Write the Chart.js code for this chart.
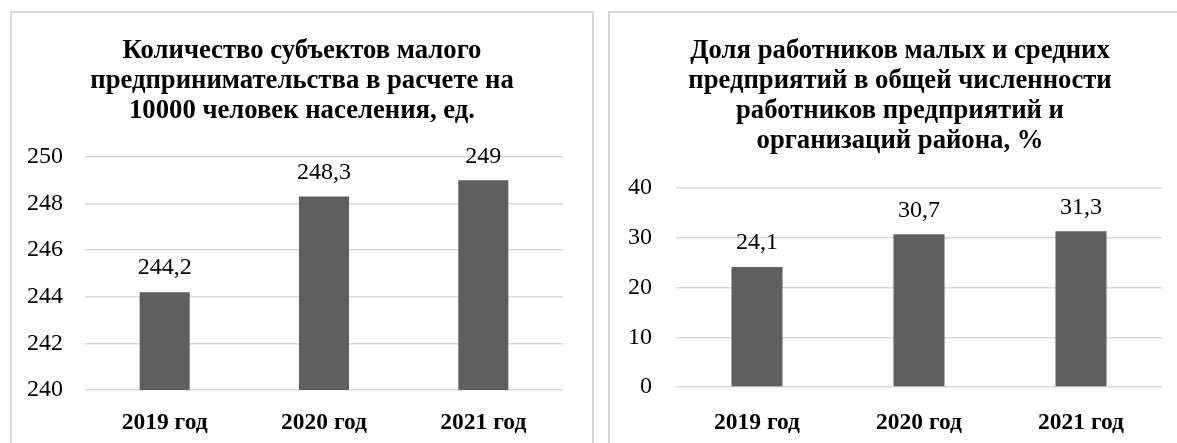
<!DOCTYPE html>
<html lang="ru">
<head>
<meta charset="utf-8">
<script src="https://cdn.jsdelivr.net/npm/chart.js@4.4.1/dist/chart.umd.min.js"></script>
<style>
  html, body { margin: 0; padding: 0; background: #fff; overflow: hidden; }
  body { width: 1177px; height: 443px; position: relative; }
  .panel { position: absolute; top: 11px; width: 584px; height: 460px; border: 2px solid #d9d9d9; box-sizing: border-box; }
  .holder { position: absolute; top: 12px; width: 582px; height: 431px; }
</style>
</head>
<body>
<div class="panel" style="left:10px"></div>
<div class="panel" style="left:608px"></div>
<div class="holder" style="left:11px"><canvas id="chartSubjects" width="582" height="431"></canvas></div>
<div class="holder" style="left:609px"><canvas id="chartWorkers" width="582" height="431"></canvas></div>
<script>
const years = ["2019 год", "2020 год", "2021 год"];

const subjectsTitle = ["Количество субъектов малого", "предпринимательства в расчете на", "10000 человек населения, ед."];
const subjectsValues = [244.2, 248.3, 249];
const subjectsTicks = [240, 242, 244, 246, 248, 250];

const workersTitle = ["Доля работников малых и средних", "предприятий в общей численности", "работников предприятий и", "организаций района, %"];
const workersValues = [24.1, 30.7, 31.3];
const workersTicks = [0, 10, 20, 30, 40];

const FONT = "'Liberation Serif', 'Times New Roman', serif";

// подписи значений над столбцами
const valueLabels = {
  id: "valueLabels",
  afterDatasetsDraw(chart) {
    const ctx = chart.ctx;
    ctx.save();
    ctx.font = "24px " + FONT;
    ctx.fillStyle = "#000";
    ctx.textAlign = "center";
    ctx.textBaseline = "middle";
    chart.getDatasetMeta(0).data.forEach((bar, i) => {
      const v = chart.data.datasets[0].data[i];
      ctx.fillText(String(v).replace(".", ","), bar.x, bar.y - 24);
    });
    ctx.restore();
  },
};

function makeChart(id, title, values, ticks, opts) {
  const ctx = document.getElementById(id).getContext("2d");
  return new Chart(ctx, {
    type: "bar",
    data: {
      labels: years,
      datasets: [
        {
          data: values,
          backgroundColor: "#5f5f5f",
          borderWidth: 0,
          categoryPercentage: 1,
          barPercentage: opts.barPct,
        },
      ],
    },
    options: {
      responsive: false,
      animation: false,
      events: [],
      layout: { padding: 0 },
      plugins: {
        legend: { display: false },
        tooltip: { enabled: false },
        title: {
          display: true,
          text: title,
          color: "#000",
          font: { family: FONT, size: 26.7, weight: "bold", lineHeight: "30px" },
          padding: { top: 24, bottom: opts.titleBottom },
        },
      },
      scales: {
        x: {
          grid: { display: false },
          border: { display: false },
          ticks: {
            color: "#000",
            padding: opts.xPad,
            font: { family: FONT, size: 23.5, weight: "bold" },
          },
          afterFit: (s) => { s.height = opts.xHeight; },
        },
        y: {
          min: ticks[0],
          max: ticks[ticks.length - 1],
          afterBuildTicks: (s) => { s.ticks = ticks.map((v) => ({ value: v })); },
          grid: { color: "#d9d9d9", lineWidth: 1.5, drawTicks: false },
          border: { display: false },
          ticks: {
            color: "#000",
            padding: opts.yPad,
            font: { family: FONT, size: 24 },
          },
          afterFit: (s) => { s.width = opts.yWidth; },
        },
        yRight: {
          type: "linear",
          position: "right",
          display: true,
          grid: { display: false },
          border: { display: false },
          ticks: { display: false },
          afterFit: (s) => { s.width = opts.rightGap; },
        },
      },
    },
    plugins: [valueLabels],
  });
}

makeChart("chartSubjects", subjectsTitle, subjectsValues, subjectsTicks, {
  barPct: 0.314, titleBottom: 31, xPad: 11, xHeight: 53, yPad: 22, yWidth: 74, rightGap: 30,
});

makeChart("chartWorkers", workersTitle, workersValues, workersTicks, {
  barPct: 0.315, titleBottom: 32, xPad: 14, xHeight: 56, yPad: 24, yWidth: 67, rightGap: 29,
});
</script>
</body>
</html>
